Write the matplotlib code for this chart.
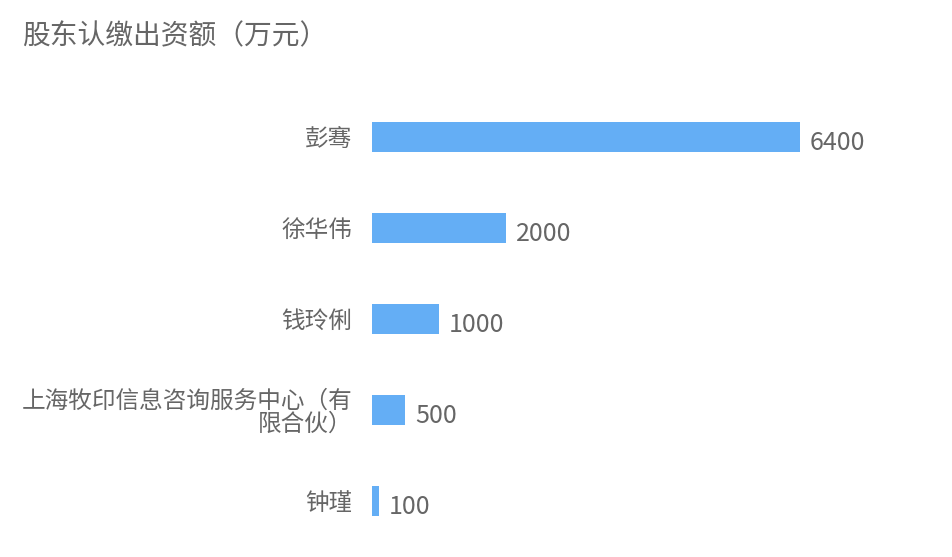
import matplotlib
matplotlib.use("Agg")
import matplotlib.pyplot as plt
from matplotlib import transforms

plt.rcParams['font.family'] = ['Noto Sans CJK SC', 'DejaVu Sans']

names = ['彭骞', '徐华伟', '钱玲俐', '上海牧印信息咨询服务中心（有\n限合伙）', '钟瑾']
amounts = [6400, 2000, 1000, 500, 100]
title = '股东认缴出资额（万元）'

bar_color = '#64aef5'
text_color = '#666666'

fig = plt.figure(figsize=(9.52, 5.57), dpi=100)
# axes placed in pixel terms: left edge 372px, top ~91px
ax = fig.add_axes([372 / 952, (557 - 546.5) / 557, 535 / 952, 455 / 557])

ypos = list(range(len(names)))
ax.barh(ypos, amounts, height=0.33, color=bar_color)
ax.set_xlim(0, 8000)
ax.set_ylim(len(names) - 0.5, -0.5)

ax.set_yticks(ypos)
ax.set_yticklabels(names, fontsize=17, color=text_color, linespacing=1.0)
ax.tick_params(axis='y', length=0, pad=14)
ax.set_xticks([])
for s in ax.spines.values():
    s.set_visible(False)

offset = transforms.offset_copy(ax.transData, fig=fig, x=10, y=-6, units='dots')
for y, v in zip(ypos, amounts):
    ax.text(v, y, str(v), transform=offset, ha='left', va='center',
            fontsize=18, color=text_color)

fig.text(22 / 952, 1 - 36 / 557, title, ha='left', va='center',
         fontsize=20, color=text_color)

fig.savefig('out.png', dpi=100)
